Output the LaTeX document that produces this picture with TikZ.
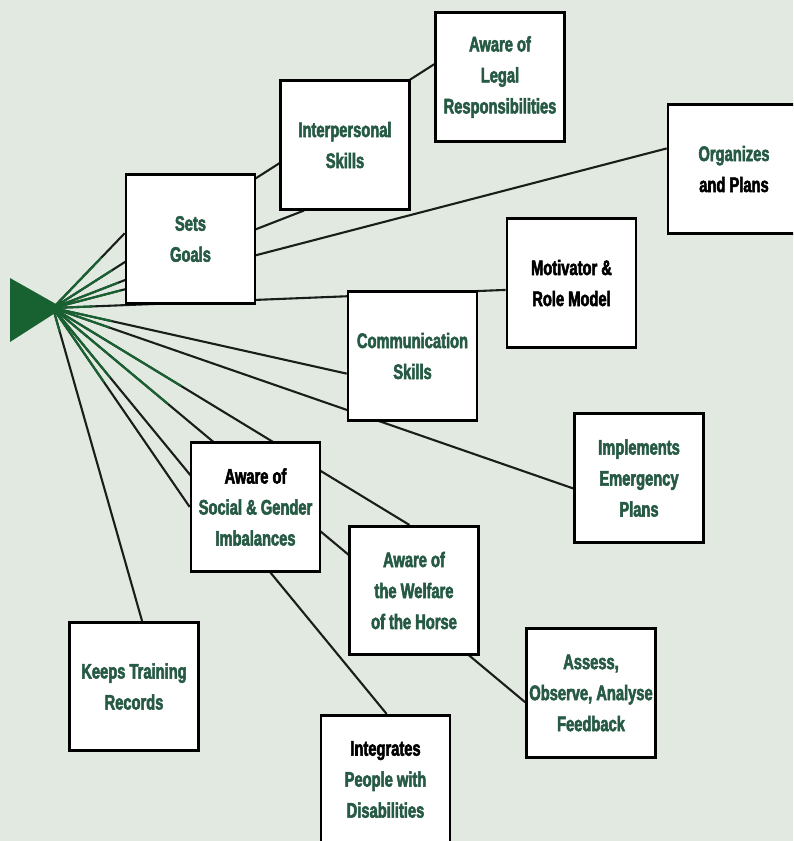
\documentclass[tikz,border=0pt]{standalone}
\usepackage{fontspec}
\setmainfont{Liberation Sans}[FakeStretch=0.70,BoldFeatures={FakeBold=2.5}]
\usetikzlibrary{positioning,calc,backgrounds}

\definecolor{paper}{RGB}{226,233,224}
\definecolor{hubgreen}{RGB}{24,98,50}
\definecolor{inkgreen}{RGB}{38,90,68}
\definecolor{wirecol}{RGB}{26,30,26}

\begin{document}
\begin{tikzpicture}[x=1pt,y=-1pt,on grid,
    skill/.style={rectangle, draw=black, line width=2.6pt, fill=white,
        minimum width=129pt, minimum height=128.5pt, inner sep=1pt,
        align=center, text=inkgreen, font=\bfseries\fontsize{21}{31}\selectfont},
    wire/.style={line width=2.1pt, color=wirecol}
    ]

    \useasboundingbox (0,0) rectangle (793,841);
    \clip (0,0) rectangle (793,841);

    \coordinate (apex) at (53,308);

    \node [skill] (goals) at (190.5,239) {Sets\\Goals};
    \node [skill] (interp) [above right = 94pt and 154.5pt of goals] {Interpersonal\\Skills};
    \node [skill] (legal) [above right = 68pt and 155pt of interp] {Aware of\\Legal\\Responsibilities};
    \node [skill, minimum width=132pt] (organ) [below right = 92pt and 234pt of legal] {Organizes\\{\color{black}and Plans}};
    \node [skill] (comm) [below right = 117pt and 222pt of goals] {Communication\\Skills};
    \node [skill, text=black] (motiv) [above right = 73pt and 159pt of comm] {Motivator \&\\Role Model};
    \node [skill] (emerg) [below right = 122pt and 226.5pt of comm] {Implements\\Emergency\\Plans};
    \node [skill] (social) [below right = 268pt and 65pt of goals] {{\color{black}Aware of}\\Social \& Gender\\Imbalances};
    \node [skill] (welfare) [below right = 83.5pt and 158.5pt of social] {Aware of\\the Welfare\\of the Horse};
    \node [skill] (records) [below left = 179.5pt and 121.5pt of social] {Keeps Training\\Records};
    \node [skill] (integ) [below left = 189pt and 28.5pt of welfare] {{\color{black}Integrates}\\People with\\Disabilities};
    \node [skill] (assess) [below right = 102.5pt and 177pt of welfare] {Assess,\\Observe, Analyse\\Feedback};

    \begin{pgfonlayer}{background}
        \fill [paper] (0,0) rectangle (793,841);

        \path [wire]
        (apex) edge (goals.175)
        (apex) edge (legal.169)
        (apex) edge (interp.238)
        (apex) edge (organ.163)
        (apex) edge (motiv.186)
        (apex) edge (comm.195)
        (apex) edge (emerg.189)
        (apex) edge (welfare.94)
        (apex) edge (assess.188)
        (apex) edge (social.west)
        (apex) edge (integ.89)
        (apex) edge (records.83)
        ;
        % green where the lines leave the triangle
        \path [wire, color=hubgreen]
        (apex) edge ($(apex)!70pt!(goals.175)$)
        (apex) edge ($(apex)!70pt!(legal.169)$)
        (apex) edge ($(apex)!70pt!(interp.238)$)
        (apex) edge ($(apex)!70pt!(organ.163)$)
        (apex) edge ($(apex)!40pt!(motiv.186)$)
        (apex) edge ($(apex)!60pt!(comm.195)$)
        (apex) edge ($(apex)!60pt!(emerg.189)$)
        (apex) edge ($(apex)!150pt!(welfare.94)$)
        (apex) edge ($(apex)!150pt!(assess.188)$)
        (apex) edge ($(apex)!90pt!(social.west)$)
        (apex) edge ($(apex)!90pt!(integ.89)$)
        (apex) edge ($(apex)!25pt!(records.83)$)
        ;
        \fill [hubgreen] (10,278) -- (63,308) -- (10,342) -- cycle;
    \end{pgfonlayer}
\end{tikzpicture}
\end{document}
